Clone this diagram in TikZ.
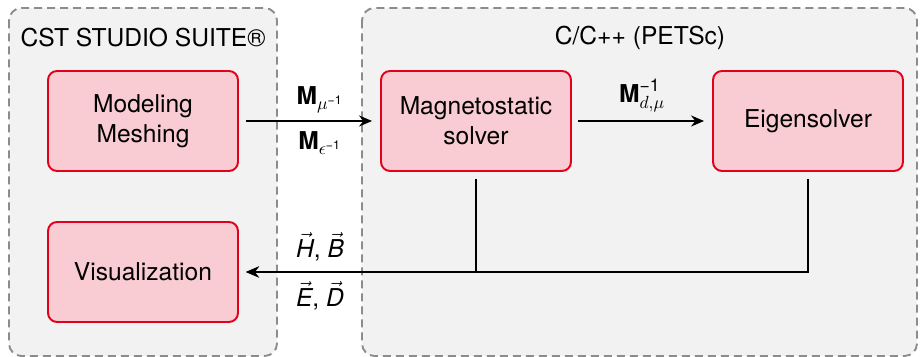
\documentclass[tikz,border=0pt]{standalone}
\usepackage{fontspec}
\setmainfont{TeX Gyre Heros}
\usetikzlibrary{arrows.meta}
\definecolor{BoxFill}{HTML}{F9CCD3}
\definecolor{BoxLine}{HTML}{E2001A}
\definecolor{GroupFill}{HTML}{F2F2F2}
\definecolor{GroupLine}{HTML}{8C8C8C}
\newcommand{\matM}{\mbox{\bfseries M}}
\newcommand{\fieldvec}[1]{$\vec{\mbox{\itshape #1}}$}
\newcommand{\minusone}[1]{\mbox{\fontsize{#1}{12}\selectfont −1}}

\begin{document}
\begin{tikzpicture}[x=0.02cm,y=-0.02cm,
  font=\fontsize{14}{17}\selectfont,
  stagebox/.style={draw=BoxLine,fill=BoxFill,line width=1.1pt,rounded corners=0.18cm,
    minimum width=3.8cm,minimum height=2cm,align=center},
  groupbox/.style={draw=GroupLine,fill=GroupFill,line width=1.1pt,
    dash pattern=on 0.16cm off 0.1cm,rounded corners=0.25cm},
  flow/.style={line width=1.1pt,-{Stealth[length=0.26cm,width=0.22cm]}}]
\path[use as bounding box] (0,0) rectangle (920,357);
% tool groups
\draw[groupbox] (9,8) rectangle (277,356);
\draw[groupbox] (362,8) rectangle (917,356);
\node (cst) at (143,38) {CST STUDIO SUITE®};
\node (petsc) at (640,38) {C/C++ (PETSc)};
% stages
\node[stagebox] (mesh) at (143,121) {Modeling\\Meshing};
\node[stagebox] (vis) at (143,272) {Visualization};
\node[stagebox] (mag) at (476,121) {Magnetostatic\\solver};
\node[stagebox] (eig) at (808,121) {Eigensolver};
% data flow
\draw[flow,shorten <=0.14cm,shorten >=0.16cm] (mesh.east) -- (mag.west);
\draw[flow,shorten <=0.12cm,shorten >=0.16cm] (mag.east) -- (eig.west)
  node[midway,above=1pt] (minv) {$\matM^{\minusone{10}}_{d,\mu}$};
\draw[flow] ([yshift=-0.14cm]mag.south) |- ([xshift=0.14cm]vis.east);
\draw[flow] ([yshift=-0.14cm]eig.south) |- ([xshift=0.14cm]vis.east);
\node (mmu) at (320,100) {$\matM_{\mu^{\minusone{7}}}$};
\node (meps) at (320,143) {$\matM_{\epsilon^{\minusone{7}}}$};
\node (hb) at (320,247) {\fieldvec{H}, \fieldvec{B}};
\node (ed) at (320,296) {\fieldvec{E}, \fieldvec{D}};
\end{tikzpicture}
\end{document}
